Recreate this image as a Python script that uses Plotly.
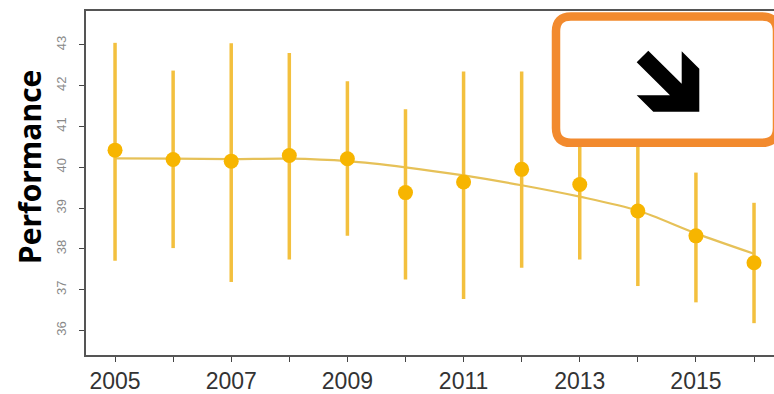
import plotly.graph_objects as go

# Yearly performance: mean with lower/upper interval, plus smoothed trend
years = [2005, 2006, 2007, 2008, 2009, 2010, 2011, 2012, 2013, 2014, 2015, 2016]
performance = [40.42, 40.19, 40.15, 40.29, 40.21, 39.38, 39.64, 39.95, 39.58, 38.93, 38.32, 37.66]
upper = [43.05, 42.37, 43.04, 42.80, 42.11, 41.42, 42.35, 42.35, 41.50, 40.80, 39.87, 39.13]
lower = [37.71, 38.02, 37.19, 37.74, 38.32, 37.25, 36.77, 37.54, 37.74, 37.09, 36.69, 36.18]
trend = [40.22, 40.21, 40.20, 40.21, 40.15, 40.00, 39.80, 39.56, 39.28, 38.94, 38.38, 37.88]

x_tick_vals = years
x_tick_text = [str(y) if y % 2 == 1 else "" for y in years]
y_tick_vals = [36, 37, 38, 39, 40, 41, 42, 43]

W, H = 774, 394
ML, MR, MT, MB = 86, 0, 11, 36
PW, PH = W - ML - MR, H - MT - MB


def px(x):
    return (x - ML) / PW


def py(y):
    return (H - MB - y) / PH


err_plus = [u - p for u, p in zip(upper, performance)]
err_minus = [p - l for p, l in zip(performance, lower)]

fig = go.Figure()

fig.add_trace(go.Scatter(
    x=years, y=trend, mode="lines",
    line=dict(color="#E6C158", width=2.2, shape="spline", smoothing=0.8),
    hoverinfo="skip", showlegend=False,
))

fig.add_trace(go.Scatter(
    x=years, y=performance, mode="markers",
    marker=dict(color="#F7B500", size=15),
    error_y=dict(type="data", symmetric=False, array=err_plus, arrayminus=err_minus,
                 color="#F3C03E", thickness=3.5, width=0),
    showlegend=False,
))


# Rounded orange callout box with a bold down-right arrow
def rounded_rect(x0, y0, x1, y1, r):
    a, b, c, d = px(x0), py(y0), px(x1), py(y1)
    rx, ry = r / PW, r / PH
    return (f"M {a + rx},{b} L {c - rx},{b} Q {c},{b} {c},{b - ry} "
            f"L {c},{d + ry} Q {c},{d} {c - rx},{d} "
            f"L {a + rx},{d} Q {a},{d} {a},{d + ry} "
            f"L {a},{b - ry} Q {a},{b} {a + rx},{b} Z")


box_path = rounded_rect(556, 16.5, 777, 144, 15)

arrow_pts = [(636.7, 62.7), (648.3, 51.0), (681.7, 84.3), (681.7, 51.7),
             (699.3, 69.3), (699.3, 112.7), (653.3, 112.7), (636.7, 96.0),
             (670.0, 96.0)]
arrow_path = "M " + " L ".join(f"{px(x)},{py(y)}" for x, y in arrow_pts) + " Z"

fig.update_layout(
    width=W, height=H,
    margin=dict(l=ML, r=MR, t=MT, b=MB),
    paper_bgcolor="white", plot_bgcolor="white",
    font=dict(family="Liberation Sans, Arial, sans-serif"),
    xaxis=dict(
        range=[2004.5, 2016.344],
        tickmode="array", tickvals=x_tick_vals, ticktext=x_tick_text,
        ticks="outside", ticklen=5, tickwidth=1.2, tickcolor="#444",
        tickfont=dict(size=23, color="#333"),
        showline=True, linecolor="#555", linewidth=1.5, mirror=True,
        showgrid=False, zeroline=False,
    ),
    yaxis=dict(
        range=[35.40, 43.83],
        tickmode="array", tickvals=y_tick_vals,
        ticks="outside", ticklen=5, tickwidth=1.2, tickcolor="#444",
        tickangle=-90, tickfont=dict(size=13, color="#888"),
        ticklabelstandoff=8,
        showline=True, linecolor="#555", linewidth=1.5,
        showgrid=False, zeroline=False,
    ),
    shapes=[
        dict(type="path", path=box_path, xref="paper", yref="paper",
             line=dict(color="#F28A2E", width=8.5), fillcolor="white", layer="above"),
        dict(type="path", path=arrow_path, xref="paper", yref="paper",
             line=dict(width=0), fillcolor="black", layer="above"),
    ],
    annotations=[
        dict(text="<b>Performance</b>", xref="paper", yref="paper",
             x=px(29), y=py(168.5), textangle=-90, showarrow=False,
             font=dict(family="Open Sans, sans-serif", size=30, color="black"),
             xanchor="center", yanchor="middle"),
    ],
)

fig.write_html("out.html")
